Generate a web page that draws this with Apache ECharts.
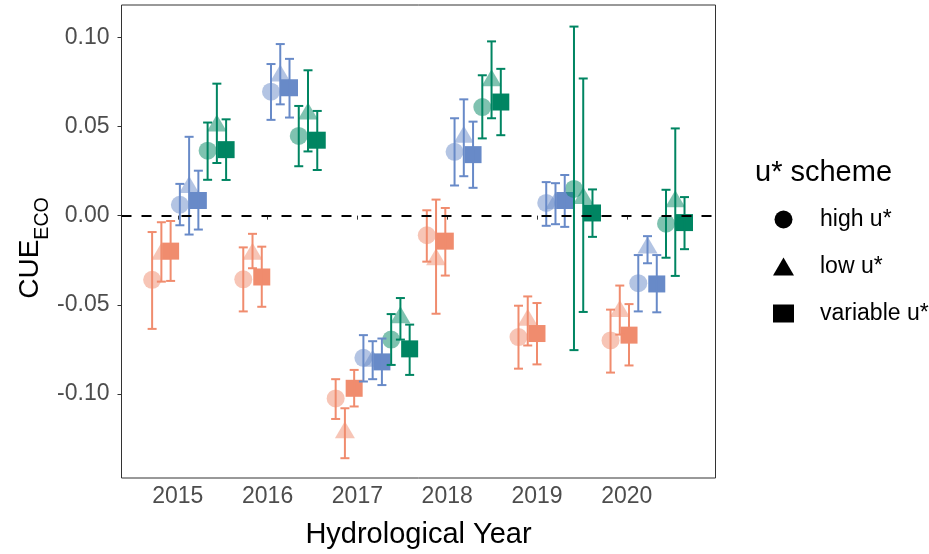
<!DOCTYPE html>
<html>
<head>
<meta charset="utf-8">
<script src="https://cdn.jsdelivr.net/npm/echarts@6/dist/echarts.min.js"></script>
<style>
  html, body { margin: 0; padding: 0; background: #fff; }
  #chart { width: 929px; height: 554px; }
</style>
</head>
<body>
<div id="chart"></div>
<script>
// hydrological years on the axis
const years = [2015, 2016, 2017, 2018, 2019, 2020];
// centre of each year's dodged group
const yearPos = [2015.126, 2016.141, 2017.170, 2018.185, 2019.206, 2020.231];
const yTicks = [-0.10, -0.05, 0.00, 0.05, 0.10];

const schemes = ['high u*', 'low u*', 'variable u*'];
const groupColors = ['#F08C6E', '#688AC8', '#008562'];

// orange group
const orangeHigh = [-0.036, -0.0357, -0.1025, -0.011, -0.0681, -0.070];
const orangeHighLo = [-0.0635, -0.0537, -0.114, -0.0258, -0.0858, -0.088];
const orangeHighHi = [-0.0092, -0.0178, -0.0917, 0.003, -0.0505, -0.0527];
const orangeLow = [-0.020, -0.020, -0.120, -0.023, -0.057, -0.052];
const orangeLowLo = [-0.037, -0.0295, -0.136, -0.055, -0.0728, -0.0667];
const orangeLowHi = [-0.0037, -0.0102, -0.108, 0.009, -0.0453, -0.0392];
const orangeVar = [-0.0199, -0.0344, -0.0968, -0.0143, -0.0661, -0.067];
const orangeVarLo = [-0.0366, -0.0511, -0.107, -0.0336, -0.0834, -0.084];
const orangeVarHi = [-0.003, -0.0174, -0.0865, 0.0043, -0.049, -0.0496];

// blue group
const blueHigh = [0.0061, 0.0695, -0.0797, 0.0358, 0.0071, -0.0379];
const blueHighLo = [-0.0054, 0.0537, -0.093, 0.0169, -0.0057, -0.0537];
const blueHighHi = [0.0178, 0.085, -0.067, 0.0546, 0.0188, -0.0221];
const blueLow = [0.0175, 0.080, -0.080, 0.0457, 0.0085, -0.0165];
const blueLowLo = [-0.0106, 0.0624, -0.0917, 0.0221, -0.0048, -0.0267];
const blueLowHi = [0.0442, 0.0962, -0.0704, 0.0652, 0.0182, -0.0115];
const blueVar = [0.0085, 0.0717, -0.082, 0.0342, 0.0085, -0.0383];
const blueVarLo = [-0.0078, 0.055, -0.095, 0.0156, -0.0063, -0.0542];
const blueVarHi = [0.0252, 0.0879, -0.0689, 0.0527, 0.0228, -0.0221];

// green group
const greenHigh = [0.0364, 0.0447, -0.0695, 0.0609, 0.015, -0.0045];
const greenHighLo = [0.0201, 0.0277, -0.0837, 0.0433, -0.0754, -0.0236];
const greenHighHi = [0.0522, 0.0615, -0.0552, 0.0787, 0.106, 0.0145];
const greenLow = [0.052, 0.0587, -0.0555, 0.0773, 0.0113, 0.0095];
const greenLowLo = [0.0295, 0.036, -0.0695, 0.0546, -0.054, -0.0338];
const greenLowHi = [0.074, 0.0815, -0.0462, 0.0977, 0.0769, 0.0489];
const greenVar = [0.037, 0.0423, -0.0747, 0.0637, 0.0015, -0.0039];
const greenVarLo = [0.020, 0.0256, -0.0893, 0.0451, -0.0119, -0.0188];
const greenVarHi = [0.054, 0.0587, -0.0611, 0.0823, 0.0147, 0.0104];

const groups = [
  [[orangeHigh, orangeHighLo, orangeHighHi], [orangeLow, orangeLowLo, orangeLowHi], [orangeVar, orangeVarLo, orangeVarHi]],
  [[blueHigh, blueHighLo, blueHighHi], [blueLow, blueLowLo, blueLowHi], [blueVar, blueVarLo, blueVarHi]],
  [[greenHigh, greenHighLo, greenHighHi], [greenLow, greenLowLo, greenLowHi], [greenVar, greenVarLo, greenVarHi]]
];

const DODGE = 0.103;
const symbols = ['circle', 'triangle', 'rect'];
const symbolSizes = [18, [20, 17], 17];
const symbolAlpha = [0.5, 0.5, 1];
const FONT = "'Liberation Sans', Arial, sans-serif";

const series = [];
groups.forEach((grp, g) => {
  grp.forEach(([vals, lo, hi], s) => {
    const off = (g * 3 + s - 4) * DODGE;
    const color = groupColors[g];
    series.push({
      type: 'scatter',
      name: schemes[s],
      symbol: symbols[s],
      symbolSize: symbolSizes[s],
      itemStyle: { color: color, opacity: symbolAlpha[s] },
      z: 2,
      silent: true,
      data: vals.map((v, i) => [yearPos[i] + off, v])
    });
    series.push({
      type: 'custom',
      name: 'err',
      z: 3,
      silent: true,
      encode: { x: 0, y: [1, 2] },
      data: vals.map((v, i) => [yearPos[i] + off, lo[i], hi[i]]),
      renderItem: (params, api) => {
        const x = api.value(0);
        const pLo = api.coord([x, api.value(1)]);
        const pHi = api.coord([x, api.value(2)]);
        const w = 4.5;
        const style = { stroke: color, lineWidth: 2, fill: null };
        return {
          type: 'group',
          children: [
            { type: 'line', shape: { x1: pLo[0], y1: pLo[1], x2: pHi[0], y2: pHi[1] }, style },
            { type: 'line', shape: { x1: pLo[0] - w, y1: pLo[1], x2: pLo[0] + w, y2: pLo[1] }, style },
            { type: 'line', shape: { x1: pHi[0] - w, y1: pHi[1], x2: pHi[0] + w, y2: pHi[1] }, style }
          ]
        };
      }
    });
  });
});

// dashed zero line
series.push({
  type: 'line',
  name: 'zero',
  data: [],
  silent: true,
  z: 1,
  markLine: {
    silent: true,
    symbol: 'none',
    label: { show: false },
    lineStyle: { color: '#000', width: 2, type: [10, 10] },
    data: [{ yAxis: 0 }]
  }
});

const chart = echarts.init(document.getElementById('chart'));
chart.setOption({
  animation: false,
  backgroundColor: '#fff',
  textStyle: { fontFamily: FONT },
  grid: {
    left: 121.5, right: 213.5, top: 5, bottom: 73.5,
    show: true, borderColor: '#333', borderWidth: 1, backgroundColor: 'transparent'
  },
  xAxis: {
    type: 'value',
    min: 2014.373,
    max: 2020.988,
    splitLine: { show: false },
    axisLine: { show: false },
    axisTick: { show: true, length: 4, customValues: years, lineStyle: { color: '#333', width: 1 } },
    axisLabel: {
      customValues: years, color: '#4D4D4D', fontSize: 23, margin: 7, fontFamily: FONT,
      formatter: (v) => String(Math.round(v))
    },
    name: 'Hydrological Year',
    nameLocation: 'middle',
    nameGap: 42,
    nameTextStyle: { color: '#000', fontSize: 29, fontFamily: FONT }
  },
  yAxis: {
    type: 'value',
    min: -0.1471,
    max: 0.1181,
    splitLine: { show: false },
    axisLine: { show: false },
    axisTick: { show: true, length: 4, customValues: yTicks, lineStyle: { color: '#333', width: 1 } },
    axisLabel: {
      customValues: yTicks, color: '#4D4D4D', fontSize: 23, margin: 12, fontFamily: FONT,
      formatter: (v) => v.toFixed(2)
    }
  },
  legend: {
    orient: 'vertical',
    left: 768,
    top: 203,
    itemWidth: 21,
    itemHeight: 18,
    itemGap: 24,
    textStyle: { color: '#000', fontSize: 23, fontFamily: FONT, padding: [0, 0, 0, 21] },
    selectedMode: false,
    data: [
      { name: 'high u*', icon: 'circle', itemStyle: { color: '#000', opacity: 1 } },
      { name: 'low u*', icon: 'triangle', itemStyle: { color: '#000', opacity: 1 } },
      { name: 'variable u*', icon: 'rect', itemStyle: { color: '#000', opacity: 1 } }
    ]
  },
  graphic: [
    {
      type: 'text',
      left: 755,
      top: 158,
      style: { text: 'u* scheme', fill: '#000', font: '29px ' + FONT }
    },
    {
      type: 'text',
      x: 30,
      y: 248,
      rotation: Math.PI / 2,
      style: {
        text: '{a|CUE}{b|ECO}',
        align: 'center',
        verticalAlign: 'middle',
        rich: {
          a: { fontSize: 28, fill: '#000', fontFamily: FONT, lineHeight: 34, verticalAlign: 'middle' },
          b: { fontSize: 19.6, fill: '#000', fontFamily: FONT, lineHeight: 34, verticalAlign: 'bottom', padding: [0, 0, -6, 0] }
        }
      }
    }
  ],
  series: series
});
</script>
</body>
</html>
